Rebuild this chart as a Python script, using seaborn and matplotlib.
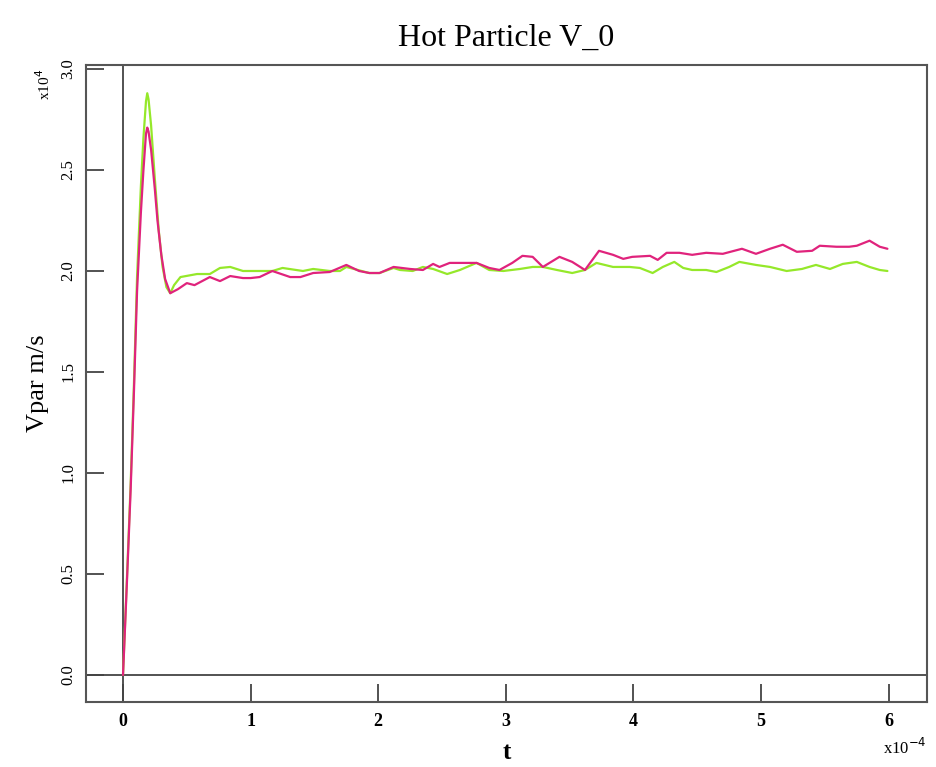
import numpy as np
import pandas as pd
import matplotlib
matplotlib.use('Agg')
import matplotlib.pyplot as plt
import seaborn as sns

# magenta curve (t in 1e-4, Vpar in 1e4 m/s)
t_mag = [0.00, 0.03, 0.06, 0.086, 0.11, 0.14, 0.16, 0.18, 0.19, 0.20, 0.22, 0.25, 0.27, 0.30,
         0.33, 0.37, 0.43, 0.50, 0.56, 0.62, 0.68, 0.76, 0.84, 0.94, 1.00, 1.07, 1.17, 1.31,
         1.39, 1.49, 1.62, 1.75, 1.85, 1.93, 2.01, 2.12, 2.25, 2.35, 2.43, 2.48, 2.56, 2.67,
         2.77, 2.87, 2.95, 3.05, 3.13, 3.21, 3.29, 3.42, 3.52, 3.62, 3.73, 3.84, 3.92, 3.99,
         4.13, 4.19, 4.26, 4.36, 4.46, 4.57, 4.70, 4.85, 4.96, 5.07, 5.17, 5.28, 5.40, 5.46,
         5.59, 5.69, 5.75, 5.85, 5.93, 5.99]
v_mag = [0.00, 0.45, 0.92, 1.41, 1.90, 2.29, 2.50, 2.68, 2.71, 2.69, 2.60, 2.40, 2.25, 2.08,
         1.96, 1.89, 1.91, 1.94, 1.93, 1.95, 1.97, 1.95, 1.975, 1.965, 1.965, 1.97, 2.00, 1.97,
         1.97, 1.99, 1.995, 2.03, 2.00, 1.99, 1.99, 2.02, 2.01, 2.005, 2.035, 2.02, 2.04, 2.04,
         2.04, 2.015, 2.005, 2.04, 2.075, 2.07, 2.02, 2.07, 2.045, 2.005, 2.10, 2.08, 2.06, 2.07,
         2.075, 2.055, 2.09, 2.09, 2.08, 2.09, 2.085, 2.11, 2.085, 2.11, 2.13, 2.095, 2.10, 2.125,
         2.12, 2.12, 2.125, 2.15, 2.12, 2.11]

# green curve
t_grn = [0.00, 0.03, 0.06, 0.086, 0.11, 0.14, 0.16, 0.18, 0.19, 0.20, 0.22, 0.25, 0.28, 0.31,
         0.34, 0.37, 0.40, 0.45, 0.58, 0.68, 0.76, 0.84, 0.94, 1.05, 1.17, 1.25, 1.41, 1.49,
         1.62, 1.70, 1.75, 1.93, 2.01, 2.12, 2.17, 2.27, 2.35, 2.43, 2.54, 2.64, 2.77, 2.87,
         2.98, 3.11, 3.21, 3.29, 3.40, 3.52, 3.62, 3.71, 3.84, 3.97, 4.05, 4.15, 4.23, 4.32,
         4.39, 4.46, 4.57, 4.65, 4.75, 4.83, 4.96, 5.07, 5.20, 5.32, 5.43, 5.54, 5.64, 5.75,
         5.85, 5.93, 5.99]
v_grn = [0.00, 0.47, 0.95, 1.45, 1.97, 2.42, 2.66, 2.84, 2.88, 2.85, 2.72, 2.45, 2.20, 2.02,
         1.92, 1.89, 1.93, 1.97, 1.985, 1.985, 2.015, 2.02, 2.00, 2.00, 2.00, 2.015, 2.00, 2.01,
         2.00, 2.00, 2.02, 1.99, 1.99, 2.015, 2.005, 2.00, 2.02, 2.01, 1.985, 2.005, 2.04, 2.005,
         2.00, 2.01, 2.02, 2.02, 2.005, 1.99, 2.005, 2.04, 2.02, 2.02, 2.015, 1.99, 2.02, 2.045,
         2.015, 2.005, 2.005, 1.995, 2.02, 2.045, 2.03, 2.02, 2.00, 2.01, 2.03, 2.01, 2.035, 2.045,
         2.02, 2.005, 2.00]

x_ticks = [0, 1, 2, 3, 4, 5, 6]
y_ticks = [0.0, 0.5, 1.0, 1.5, 2.0, 2.5, 3.0]

df = pd.concat([
    pd.DataFrame({'t': t_grn, 'v': v_grn, 'run': 'green'}),
    pd.DataFrame({'t': t_mag, 'v': v_mag, 'run': 'magenta'}),
])

sns.set_style('white')
plt.rcParams['font.family'] = ['Liberation Serif', 'DejaVu Serif']
plt.rcParams['text.color'] = 'black'
plt.rcParams['axes.labelcolor'] = 'black'
plt.rcParams['xtick.color'] = 'black'
plt.rcParams['ytick.color'] = 'black'

fig = plt.figure(figsize=(9.37, 7.67), dpi=100)
ax = fig.add_axes([0.0918, 0.0847, 0.8975, 0.8306])

# zero lines
ax.axvline(0, color='#444444', lw=1.3, zorder=1)
ax.axhline(0, color='#444444', lw=1.3, zorder=1)

sns.lineplot(data=df, x='t', y='v', hue='run', ax=ax, legend=False,
             palette={'green': '#95e82a', 'magenta': '#e0237c'}, lw=1.6, zorder=3)

ax.set_xlim(-0.29, 6.30)
ax.set_ylim(-0.134, 3.02)
ax.set_xticks(x_ticks)
ax.set_xticklabels([str(v) for v in x_ticks], fontsize=13, fontweight='bold')
ax.set_yticks(y_ticks)
ax.set_yticklabels([f'{v:.1f}' for v in y_ticks], fontsize=12, rotation=90, va='center')
ax.tick_params(axis='both', direction='in', length=13, width=1.3, color='#444444',
               bottom=True, left=True, top=False, right=False)
ax.tick_params(axis='x', pad=8)
ax.tick_params(axis='y', pad=7)

for s in ax.spines.values():
    s.set_color('#555555')
    s.set_linewidth(1.5)

ax.set_xlabel('t', fontsize=18, fontweight='bold', labelpad=8)
ax.set_ylabel('Vpar m/s', fontsize=19, labelpad=8)
ax.set_title('Hot Particle V_0', fontsize=23, pad=14, color='black')

# axis multipliers
fig.text(0.047, 0.89, r'x10$^{4}$', fontsize=11, rotation=90, ha='center', va='center')
fig.text(0.966, 0.012, r'x10$^{-4}$', fontsize=12, ha='center', va='bottom')

fig.savefig('out.png', dpi=100)
